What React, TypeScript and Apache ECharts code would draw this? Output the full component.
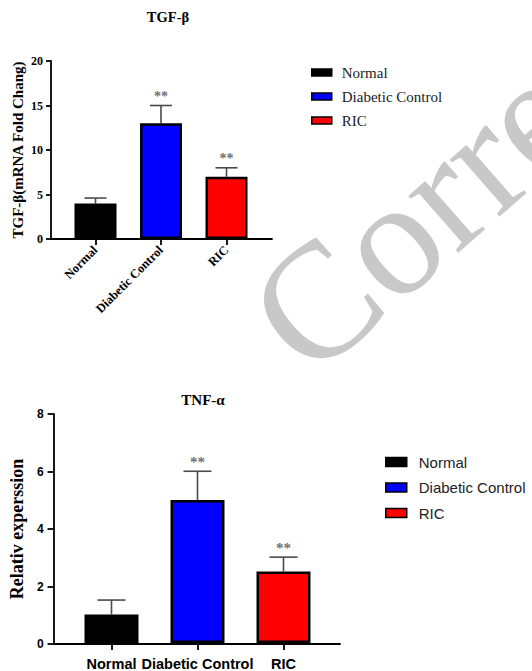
import React, { useEffect, useRef } from "react";
import * as echarts from "echarts";

const categories = ["Normal", "Diabetic Control", "RIC"];
const barColors = ["#000000", "#0000ff", "#ff0000"];
const significance = ["", "**", "**"];

const tgfTitle = "TGF-β";
const tgfAxisName = "TGF-β(mRNA Fold Chang)";
const tgfMeans = [4.0, 13.0, 7.0];
const tgfErrors = [0.6, 2.0, 1.0];
const tgfMax = 20;
const tgfInterval = 5;

const tnfTitle = "TNF-α";
const tnfAxisName = "Relativ experssion";
const tnfMeans = [1.0, 5.0, 2.5];
const tnfErrors = [0.5, 1.0, 0.5];
const tnfMax = 8;
const tnfInterval = 2;

const watermark = "Corre";

const SERIF = "'Liberation Serif', 'Times New Roman', serif";
const SANS = "'Liberation Sans', Arial, sans-serif";

function barSeries(means: number[], axisIdx: number, barWidth: number) {
  return categories.map((name, i) => ({
    name,
    type: "bar",
    xAxisIndex: axisIdx,
    yAxisIndex: axisIdx,
    barWidth,
    barGap: "-100%",
    z: 3,
    itemStyle: { color: barColors[i], borderColor: "#000", borderWidth: 2.5 },
    data: categories.map((_, j) => (j === i ? means[i] : "-")),
  }));
}

function errorSeries(means: number[], errors: number[], axisIdx: number, capHalf: number, starFont: string) {
  return {
    type: "custom",
    xAxisIndex: axisIdx,
    yAxisIndex: axisIdx,
    z: 2,
    silent: true,
    data: categories.map((_, i) => [i, means[i], errors[i]]),
    renderItem: (params: any, api: any) => {
      const idx = api.value(0);
      const mean = api.value(1);
      const err = api.value(2);
      const base = api.coord([idx, mean]);
      const top = api.coord([idx, mean + err]);
      const stroke = { stroke: "#4a4a4a", lineWidth: 1.6 };
      return {
        type: "group",
        children: [
          { type: "line", shape: { x1: base[0], y1: base[1], x2: top[0], y2: top[1] }, style: stroke },
          { type: "line", shape: { x1: top[0] - capHalf, y1: top[1], x2: top[0] + capHalf, y2: top[1] }, style: stroke },
          {
            type: "text",
            x: top[0],
            y: top[1] - 2,
            style: {
              text: significance[params.dataIndex],
              align: "center",
              verticalAlign: "bottom",
              fill: "#707070",
              font: starFont,
            },
          },
        ],
      };
    },
  };
}

export default function App() {
  const ref = useRef<HTMLDivElement>(null);
  useEffect(() => {
    if (!ref.current) return;
    const chart = echarts.init(ref.current, undefined, { renderer: "svg" });
    const hiddenVal = (max: number, interval: number, g: number) => ({
      type: "value", gridIndex: g, min: 0, max, interval, show: false,
    });
    const lineOnlyX = (g: number) => ({
      type: "value", gridIndex: g, min: 0, max: 1,
      axisLine: { show: true, lineStyle: { color: "#000", width: 1.8 } },
      axisTick: { show: false }, axisLabel: { show: false }, splitLine: { show: false },
    });
    const option: any = {
      animation: false,
      backgroundColor: "#ffffff",
      grid: [
        { left: 62.75, top: 61, width: 196.5, height: 178 },
        { left: 51, top: 61, width: 221, height: 178 },
        { left: 68.5, top: 414, width: 258, height: 230 },
        { left: 53, top: 414, width: 287, height: 230 },
      ],
      xAxis: [
        {
          type: "category", gridIndex: 0, data: categories,
          axisLine: { show: false },
          axisTick: { show: true, alignWithLabel: true, length: 6, lineStyle: { color: "#000", width: 1.8 } },
          axisLabel: { rotate: 45, margin: 9, color: "#000", fontFamily: SERIF, fontWeight: "bold", fontSize: 12.5, interval: 0 },
        },
        lineOnlyX(1),
        {
          type: "category", gridIndex: 2, data: categories,
          axisLine: { show: false },
          axisTick: { show: true, alignWithLabel: true, length: 7, lineStyle: { color: "#000", width: 1.8 } },
          axisLabel: { margin: 13, color: "#000", fontFamily: SANS, fontWeight: "bold", fontSize: 14.5, interval: 0 },
        },
        lineOnlyX(3),
      ],
      yAxis: [
        hiddenVal(tgfMax, tgfInterval, 0),
        {
          type: "value", gridIndex: 1, min: 0, max: tgfMax, interval: tgfInterval,
          name: tgfAxisName, nameLocation: "middle", nameGap: 26,
          nameTextStyle: { color: "#000", fontFamily: SERIF, fontWeight: "bold", fontSize: 15 },
          axisLine: { show: true, lineStyle: { color: "#000", width: 1.8 } },
          axisTick: { show: true, length: 5, lineStyle: { color: "#000", width: 1.8 } },
          axisLabel: { margin: 8, color: "#000", fontFamily: SERIF, fontWeight: "bold", fontSize: 12 },
          splitLine: { show: false },
        },
        hiddenVal(tnfMax, tnfInterval, 2),
        {
          type: "value", gridIndex: 3, min: 0, max: tnfMax, interval: tnfInterval,
          name: tnfAxisName, nameLocation: "middle", nameGap: 22,
          nameTextStyle: { color: "#000", fontFamily: SERIF, fontWeight: "bold", fontSize: 18 },
          axisLine: { show: true, lineStyle: { color: "#000", width: 1.8 } },
          axisTick: { show: true, length: 6, lineStyle: { color: "#000", width: 1.8 } },
          axisLabel: { margin: 10, color: "#000", fontFamily: SANS, fontWeight: "bold", fontSize: 12 },
          splitLine: { show: false },
        },
      ],
      legend: [
        {
          orient: "vertical", left: 311, top: 65, icon: "rect", padding: 0,
          itemWidth: 20, itemHeight: 7, itemGap: 9,
          data: categories,
          itemStyle: { borderWidth: 1.5, borderColor: "#000" },
          textStyle: { fontFamily: SERIF, fontSize: 15, color: "#222", padding: [0, 0, 0, 5] },
          selectedMode: false,
        },
        {
          orient: "vertical", left: 385, top: 454.5, icon: "rect", padding: 0,
          itemWidth: 21, itemHeight: 9, itemGap: 10.5,
          data: categories,
          itemStyle: { borderWidth: 1.5, borderColor: "#000" },
          textStyle: { fontFamily: SANS, fontSize: 15, color: "#222", padding: [0, 0, 0, 7] },
          selectedMode: false,
        },
      ],
      graphic: [
        {
          type: "text", x: 220, y: 278, rotation: 0.72, z: -10,
          style: { text: watermark, font: `165px ${SERIF}`, fill: "#c8c8c8", verticalAlign: "top" },
        },
        {
          type: "text", x: 168, y: 17,
          style: { text: tgfTitle, align: "center", verticalAlign: "middle", font: `bold 14.5px ${SERIF}`, fill: "#000" },
        },
        {
          type: "text", x: 203, y: 400,
          style: { text: tnfTitle, align: "center", verticalAlign: "middle", font: `bold 15px ${SERIF}`, fill: "#000" },
        },
      ],
      series: [
        ...barSeries(tgfMeans, 0, 42),
        errorSeries(tgfMeans, tgfErrors, 0, 11, `bold 14px ${SERIF}`),
        ...barSeries(tnfMeans, 2, 54),
        errorSeries(tnfMeans, tnfErrors, 2, 14, `bold 15px ${SERIF}`),
      ],
    };
    chart.setOption(option);
    return () => chart.dispose();
  }, []);
  return <div ref={ref} style={{ width: 532, height: 671, position: "absolute", left: 0, top: 0 }} />;
}
